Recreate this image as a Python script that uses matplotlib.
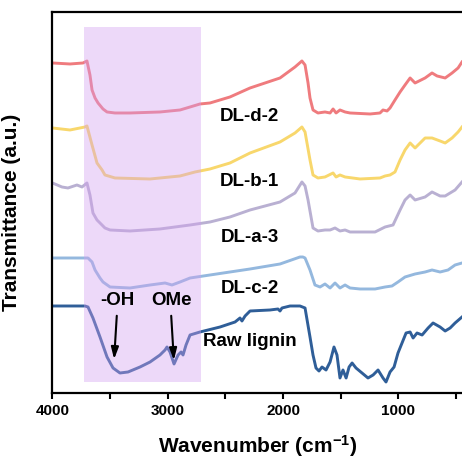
import matplotlib
matplotlib.use("Agg")
import matplotlib.pyplot as plt
from matplotlib.ticker import MultipleLocator

plt.rcParams['font.family'] = ['Liberation Sans', 'DejaVu Sans']
plt.rcParams['mathtext.fontset'] = 'custom'
plt.rcParams['mathtext.bf'] = 'Liberation Sans:bold'
plt.rcParams['mathtext.rm'] = 'Liberation Sans:bold'
plt.rcParams['mathtext.default'] = 'bf'

# ---- data (wavenumber in cm^-1, transmittance in arbitrary stacked units) ----
wn_d2 = [4000, 3848, 3735, 3701, 3675, 3657, 3631, 3605, 3562, 3527, 3458, 3328, 3068, 2894, 2807,
         2721, 2634, 2461, 2287, 2027, 1897, 1837, 1810, 1784, 1767, 1741, 1698, 1637, 1593, 1567,
         1541, 1507, 1463, 1420, 1246, 1160, 1134, 1099, 1073, 1030, 986, 943, 899, 856, 769, 709,
         665, 595, 535, 483, 449]
t_d2 = [330, 329, 330, 332, 318, 303, 295, 290, 284, 281, 280, 280, 281, 283, 286,
        289, 290, 296, 305, 315, 326, 332, 328, 310, 295, 283, 280, 281, 280, 284,
        280, 283, 281, 280, 279, 280, 283, 282, 285, 293, 301, 308, 315, 310, 315, 320,
        317, 315, 320, 325, 331]

wn_b1 = [4000, 3848, 3718, 3701, 3657, 3614, 3570, 3545, 3458, 3154, 2894, 2764, 2634, 2461, 2287,
         2027, 1897, 1837, 1810, 1767, 1741, 1698, 1637, 1567, 1541, 1507, 1463, 1333, 1160, 1116,
         1073, 1030, 986, 943, 899, 856, 769, 709, 639, 595, 535, 483, 449]
t_b1 = [265, 263, 266, 267, 248, 230, 223, 218, 215, 214, 217, 221, 224, 230, 240,
        251, 260, 266, 261, 233, 218, 215, 216, 220, 216, 218, 216, 214, 215, 217,
        218, 221, 233, 243, 250, 245, 255, 255, 252, 250, 255, 261, 266]

wn_a3 = [4000, 3918, 3866, 3788, 3744, 3701, 3675, 3649, 3614, 3588, 3545, 3501, 3328, 3068, 2807,
         2634, 2461, 2287, 2027, 1897, 1837, 1810, 1784, 1741, 1698, 1637, 1593, 1550, 1507, 1463,
         1420, 1203, 1116, 1047, 986, 943, 899, 856, 769, 709, 639, 595, 509, 449]
t_a3 = [210, 206, 205, 208, 206, 210, 198, 180, 173, 170, 165, 163, 162, 164, 168,
        171, 176, 183, 191, 200, 211, 207, 193, 165, 162, 163, 163, 165, 162, 163,
        161, 161, 166, 168, 183, 193, 198, 193, 196, 201, 197, 197, 203, 211]

wn_c2 = [4000, 3848, 3692, 3657, 3631, 3588, 3562, 3501, 3328, 3154, 3024, 2964, 2894, 2807, 2634,
         2461, 2287, 2027, 1854, 1829, 1810, 1767, 1724, 1680, 1637, 1593, 1550, 1507, 1463, 1420,
         1333, 1203, 1116, 1056, 1004, 943, 856, 769, 709, 639, 570, 509, 449]
t_c2 = [135, 135, 135, 131, 123, 115, 111, 106, 105, 108, 110, 108, 111, 115, 118,
        121, 124, 129, 136, 136, 135, 123, 108, 106, 109, 105, 110, 105, 108, 105,
        104, 104, 106, 107, 111, 116, 119, 121, 123, 121, 123, 128, 130]

wn_raw = [4000, 3848, 3718, 3692, 3649, 3588, 3527, 3475, 3415, 3345, 3241, 3154, 3068, 3024, 3007,
          2981, 2946, 2911, 2885, 2868, 2842, 2807, 2721, 2547, 2417, 2374, 2357, 2330, 2287, 2114,
          2045, 2027, 2010, 1940, 1854, 1810, 1767, 1741, 1715, 1689, 1663, 1628, 1593, 1559, 1533,
          1507, 1481, 1454, 1428, 1402, 1368, 1316, 1264, 1220, 1177, 1134, 1108, 1073, 1038, 1004,
          969, 934, 899, 873, 839, 795, 743, 700, 639, 595, 552, 509, 449]
t_raw = [87, 87, 87, 86, 75, 56, 36, 25, 20, 21, 26, 31, 38, 43, 46,
         41, 29, 38, 41, 38, 48, 58, 61, 66, 71, 75, 72, 77, 82, 83,
         84, 82, 85, 87, 87, 85, 56, 38, 25, 22, 26, 23, 31, 46, 38,
         15, 23, 15, 26, 30, 25, 20, 15, 18, 23, 15, 11, 21, 26, 40,
         50, 60, 61, 55, 60, 58, 65, 70, 66, 62, 65, 70, 76]

series = [
    ("DL-d-2", wn_d2, t_d2, "#ef7b7e", 276),
    ("DL-b-1", wn_b1, t_b1, "#f8d76c", 211),
    ("DL-a-3", wn_a3, t_a3, "#b9b0d2", 155),
    ("DL-c-2", wn_c2, t_c2, "#94b8de", 104),
    ("Raw lignin", wn_raw, t_raw, "#2f5e98", 51),
]

band_range = (3730, 2710)
band_y = (11, 366)

fig = plt.figure(figsize=(4.62, 4.59), dpi=100)
ax = fig.add_axes([0.1136, 0.1438, 0.8864, 0.8301])

for name, wn, t, col, ly in series:
    ax.plot(wn, t, color=col, lw=2.1, zorder=2, solid_joinstyle='round')
    ax.text(2290, ly, name, fontsize=13.5, fontweight='bold', ha='center', va='center', zorder=5)

ax.fill_between(band_range, band_y[0], band_y[1], color=(212/255, 160/255, 240/255),
                alpha=0.4, lw=0, zorder=3)

# annotations
ax.annotate("", xy=(3467, 31), xytext=(3441, 80),
            arrowprops=dict(arrowstyle='-|>,head_length=0.7,head_width=0.22', color='black', lw=1.5),
            zorder=6)
ax.annotate("", xy=(2946, 30), xytext=(2972, 80),
            arrowprops=dict(arrowstyle='-|>,head_length=0.7,head_width=0.22', color='black', lw=1.5),
            zorder=6)
ax.text(3441, 84, "-OH", fontsize=13.5, fontweight='bold', ha='center', va='bottom', zorder=6)
ax.text(2972, 84, "OMe", fontsize=13.5, fontweight='bold', ha='center', va='bottom', zorder=6)

ax.set_xlim(4000, 449)
ax.set_ylim(0, 381)
ax.xaxis.set_major_locator(MultipleLocator(1000))
ax.xaxis.set_minor_locator(MultipleLocator(500))
ax.tick_params(axis='x', which='both', direction='out', length=4, width=1.5, labelsize=11, pad=4)
ax.set_yticks([])
for lab in ax.get_xticklabels():
    lab.set_fontweight('bold')
ax.spines['right'].set_visible(False)
for s in ['left', 'bottom', 'top']:
    ax.spines[s].set_linewidth(1.6)

ax.set_xlabel("Wavenumber (cm$^{-1}$)", fontsize=15, fontweight='bold', labelpad=11)
ax.set_ylabel("Transmittance (a.u.)", fontsize=15, fontweight='bold')
ax.yaxis.set_label_coords(-0.077, 0.475)

fig.savefig("out.png", dpi=100)
